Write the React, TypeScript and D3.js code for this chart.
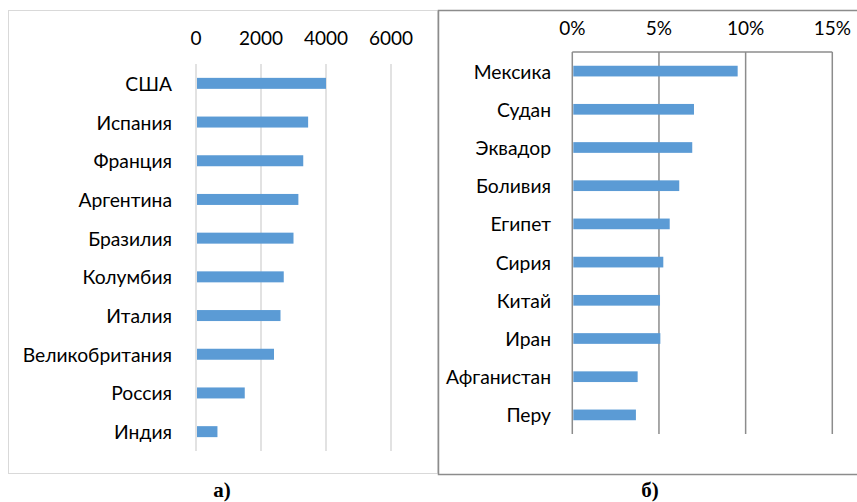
import React from "react";
import * as d3 from "d3";

const leftCategories = ["США", "Испания", "Франция", "Аргентина", "Бразилия", "Колумбия", "Италия", "Великобритания", "Россия", "Индия"];
const leftValues = [4000, 3450, 3300, 3150, 3000, 2700, 2600, 2400, 1500, 660];
const leftTicks = [0, 2000, 4000, 6000];

const rightCategories = ["Мексика", "Судан", "Эквадор", "Боливия", "Египет", "Сирия", "Китай", "Иран", "Афганистан", "Перу"];
const rightValues = [0.0954, 0.0702, 0.0692, 0.0617, 0.0562, 0.0525, 0.0506, 0.0508, 0.0377, 0.0367];
const rightTicks = [0, 0.05, 0.1, 0.15];

const BAR = "#5b9bd5";
const FONT = "Lato, 'Open Sans', sans-serif";

export default function App() {
  const xL = d3.scaleLinear().domain([0, 6000]).range([196, 391]);
  const yL = d3.scaleBand<string>().domain(leftCategories).range([64, 451]).paddingInner(0.716).paddingOuter(0.358);

  const xR = d3.scaleLinear().domain([0, 0.15]).range([572.3, 832.3]);
  const yR = d3.scaleBand<string>().domain(rightCategories).range([52, 434]).paddingInner(0.72).paddingOuter(0.36);
  const pct = d3.format(".0%");

  return (
    <svg width={857} height={502} style={{ position: "absolute", left: 0, top: 0, background: "#fff" }} fontFamily={FONT}>
      {/* left panel */}
      <rect x={8.5} y={10.5} width={429} height={463} fill="#fff" stroke="#d9d9d9" strokeWidth={1} />
      {leftTicks.map((t) => (
        <g key={"lt" + t}>
          <line x1={xL(t)} x2={xL(t)} y1={64} y2={451} stroke="#d9d9d9" strokeWidth={1.5} />
          <text x={xL(t)} y={37} textAnchor="middle" dominantBaseline="central" fontSize={19} fill="#000">{t}</text>
        </g>
      ))}
      {leftCategories.map((c, i) => (
        <g key={"lb" + c}>
          <rect x={xL(0) + 1} y={yL(c)!} width={xL(leftValues[i]) - xL(0) - 1} height={yL.bandwidth()} fill={BAR} />
          <text x={172} y={yL(c)! + yL.bandwidth() / 2} textAnchor="end" dominantBaseline="central" fontSize={19.3} fill="#000">{c}</text>
        </g>
      ))}

      {/* right panel */}
      <rect x={438.5} y={10.5} width={430} height={464} fill="#fff" stroke="#8c8c8c" strokeWidth={1.5} />
      <line x1={xR(0)} x2={xR(0.15)} y1={52} y2={52} stroke="#8c8c8c" strokeWidth={1.5} />
      {rightTicks.map((t) => (
        <g key={"rt" + t}>
          <line x1={xR(t)} x2={xR(t)} y1={52} y2={434} stroke="#8c8c8c" strokeWidth={1.5} />
          <text x={xR(t)} y={27} textAnchor="middle" dominantBaseline="central" fontSize={19} fill="#000">{pct(t)}</text>
        </g>
      ))}
      {rightCategories.map((c, i) => (
        <g key={"rb" + c}>
          <rect x={xR(0) + 1} y={yR(c)!} width={xR(rightValues[i]) - xR(0) - 1} height={yR.bandwidth()} fill={BAR} />
          <text x={551} y={yR(c)! + yR.bandwidth() / 2} textAnchor="end" dominantBaseline="central" fontSize={19.3} fill="#000">{c}</text>
        </g>
      ))}

      {/* captions */}
      <text x={222} y={497} textAnchor="middle" fontFamily="'Liberation Serif', 'Times New Roman', serif" fontWeight="bold" fontSize={21} fill="#000">а)</text>
      <text x={650} y={497} textAnchor="middle" fontFamily="'Liberation Serif', 'Times New Roman', serif" fontWeight="bold" fontSize={21} fill="#000">б)</text>
    </svg>
  );
}
